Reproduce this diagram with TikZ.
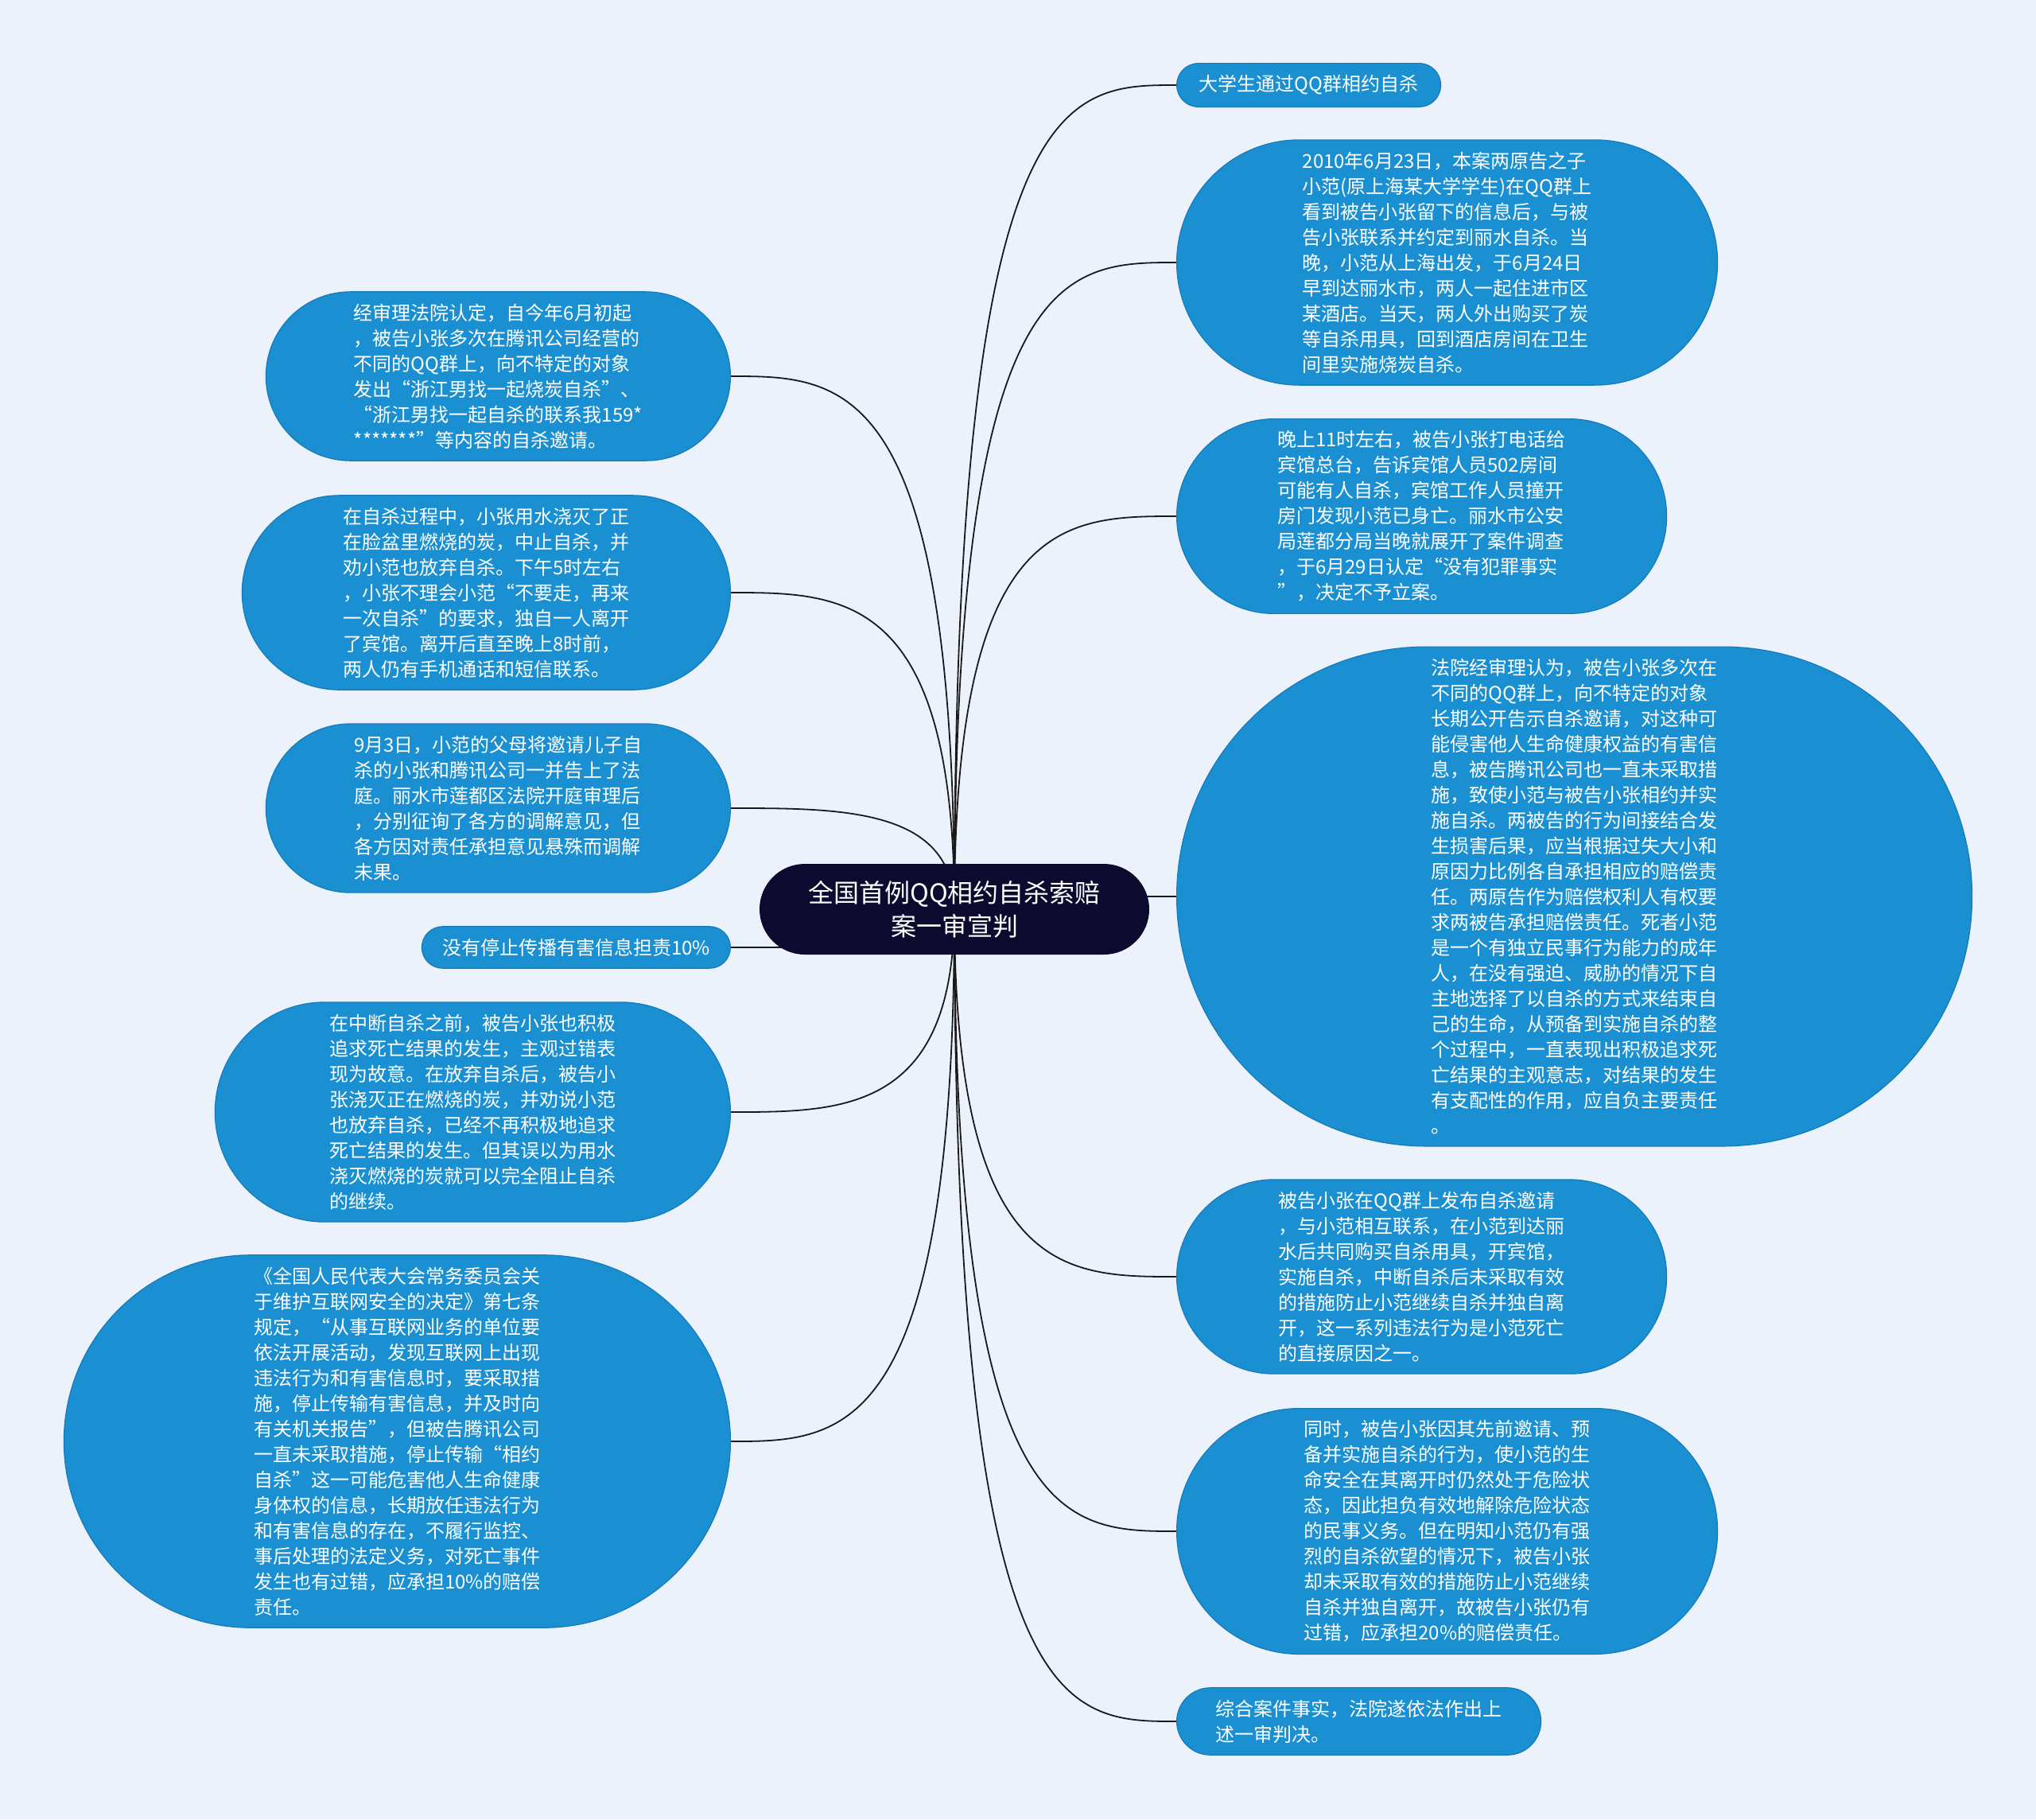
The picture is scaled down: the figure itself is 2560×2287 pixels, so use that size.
\documentclass[tikz,border=0pt]{standalone}
\usepackage{fontspec}
\setmainfont{Noto Sans CJK SC}
\usetikzlibrary{
  shapes.misc,
  calc,
  backgrounds
}
\definecolor{bgpage}{RGB}{236,242,252}
\definecolor{subblue}{RGB}{26,144,210}
\definecolor{subedge}{RGB}{22,122,186}
\definecolor{topicnavy}{RGB}{12,10,46}

\begin{document}
\begin{tikzpicture}[
  x=0.5pt, y=-0.5pt,
  every node/.style={text=white},
  subtopic/.style={rounded rectangle, fill=subblue, draw=subedge, line width=0.6pt,
                   inner xsep=0pt, inner ysep=7.5pt, align=left,
                   font=\fontsize{12}{16}\selectfont, minimum width=#1},
  subtopic/.default=160pt,
  topic/.style={rounded rectangle, fill=topicnavy, inner xsep=0pt, inner ysep=10.5pt,
                align=center, font=\fontsize{16}{21}\selectfont, minimum width=245pt},
  link/.style={draw=black!90, line width=0.9pt}
]

% Central topic
\node[topic] (root) at (1200,1143) {全国首例QQ相约自杀索赔\\案一审宣判};

% Right branch
\node[subtopic=166pt, anchor=west] (r1) at (1479,107) {大学生通过QQ群相约自杀};
\node[subtopic=340pt, anchor=west] (r2) at (1479,330) {2010年6月23日，本案两原告之子\\小范(原上海某大学学生)在QQ群上\\看到被告小张留下的信息后，与被\\告小张联系并约定到丽水自杀。当\\晚，小范从上海出发，于6月24日\\早到达丽水市，两人一起住进市区\\某酒店。当天，两人外出购买了炭\\等自杀用具，回到酒店房间在卫生\\间里实施烧炭自杀。};
\node[subtopic=308pt, anchor=west] (r3) at (1479,649) {晚上11时左右，被告小张打电话给\\宾馆总台，告诉宾馆人员502房间\\可能有人自杀，宾馆工作人员撞开\\房门发现小范已身亡。丽水市公安\\局莲都分局当晚就展开了案件调查\\，于6月29日认定“没有犯罪事实\\”，决定不予立案。};
\node[subtopic=500pt, anchor=west] (r4) at (1479,1127) {法院经审理认为，被告小张多次在\\不同的QQ群上，向不特定的对象\\长期公开告示自杀邀请，对这种可\\能侵害他人生命健康权益的有害信\\息，被告腾讯公司也一直未采取措\\施，致使小范与被告小张相约并实\\施自杀。两被告的行为间接结合发\\生损害后果，应当根据过失大小和\\原因力比例各自承担相应的赔偿责\\任。两原告作为赔偿权利人有权要\\求两被告承担赔偿责任。死者小范\\是一个有独立民事行为能力的成年\\人，在没有强迫、威胁的情况下自\\主地选择了以自杀的方式来结束自\\己的生命，从预备到实施自杀的整\\个过程中，一直表现出积极追求死\\亡结果的主观意志，对结果的发生\\有支配性的作用，应自负主要责任\\。};
\node[subtopic=308pt, anchor=west] (r5) at (1479,1605) {被告小张在QQ群上发布自杀邀请\\，与小范相互联系，在小范到达丽\\水后共同购买自杀用具，开宾馆，\\实施自杀，中断自杀后未采取有效\\的措施防止小范继续自杀并独自离\\开，这一系列违法行为是小范死亡\\的直接原因之一。};
\node[subtopic=340pt, anchor=west] (r6) at (1479,1925) {同时，被告小张因其先前邀请、预\\备并实施自杀的行为，使小范的生\\命安全在其离开时仍然处于危险状\\态，因此担负有效地解除危险状态\\的民事义务。但在明知小范仍有强\\烈的自杀欲望的情况下，被告小张\\却未采取有效的措施防止小范继续\\自杀并独自离开，故被告小张仍有\\过错，应承担20\%的赔偿责任。};
\node[subtopic=229pt, anchor=west] (r7) at (1479,2164) {综合案件事实，法院遂依法作出上\\述一审判决。};

% Left branch
\node[subtopic=292pt, anchor=east] (l1) at (919,473) {经审理法院认定，自今年6月初起\\，被告小张多次在腾讯公司经营的\\不同的QQ群上，向不特定的对象\\发出“浙江男找一起烧炭自杀”、\\“浙江男找一起自杀的联系我159*\\*******”等内容的自杀邀请。};
\node[subtopic=307pt, anchor=east] (l2) at (919,745) {在自杀过程中，小张用水浇灭了正\\在脸盆里燃烧的炭，中止自杀，并\\劝小范也放弃自杀。下午5时左右\\，小张不理会小范“不要走，再来\\一次自杀”的要求，独自一人离开\\了宾馆。离开后直至晚上8时前，\\两人仍有手机通话和短信联系。};
\node[subtopic=292pt, anchor=east] (l3) at (919,1016) {9月3日，小范的父母将邀请儿子自\\杀的小张和腾讯公司一并告上了法\\庭。丽水市莲都区法院开庭审理后\\，分别征询了各方的调解意见，但\\各方因对责任承担意见悬殊而调解\\未果。};
\node[subtopic=194pt, anchor=east] (l4) at (919,1191) {没有停止传播有害信息担责10\%};
\node[subtopic=324pt, anchor=east] (l5) at (919,1398) {在中断自杀之前，被告小张也积极\\追求死亡结果的发生，主观过错表\\现为故意。在放弃自杀后，被告小\\张浇灭正在燃烧的炭，并劝说小范\\也放弃自杀，已经不再积极地追求\\死亡结果的发生。但其误以为用水\\浇灭燃烧的炭就可以完全阻止自杀\\的继续。};
\node[subtopic=419pt, anchor=east] (l6) at (919,1812) {《全国人民代表大会常务委员会关\\于维护互联网安全的决定》第七条\\规定，“从事互联网业务的单位要\\依法开展活动，发现互联网上出现\\违法行为和有害信息时，要采取措\\施，停止传输有害信息，并及时向\\有关机关报告”，但被告腾讯公司\\一直未采取措施，停止传输“相约\\自杀”这一可能危害他人生命健康\\身体权的信息，长期放任违法行为\\和有害信息的存在，不履行监控、\\事后处理的法定义务，对死亡事件\\发生也有过错，应承担10\%的赔偿\\责任。};

% Page and connectors behind the nodes
\begin{scope}[on background layer]
  \fill[bgpage] (0,0) rectangle (2560,2287);
  \foreach \n in {r1,r2,r3,r4,r5,r6,r7}
    \draw[link] (root.center) .. controls (root.center |- \n.west)
      and ($(root.center |- \n.west)!0.5!(\n.west)$) .. (\n.west);
  \foreach \n in {l1,l2,l3,l4,l5,l6}
    \draw[link] (root.center) .. controls (root.center |- \n.east)
      and ($(root.center |- \n.east)!0.5!(\n.east)$) .. (\n.east);
\end{scope}

\end{tikzpicture}
\end{document}
